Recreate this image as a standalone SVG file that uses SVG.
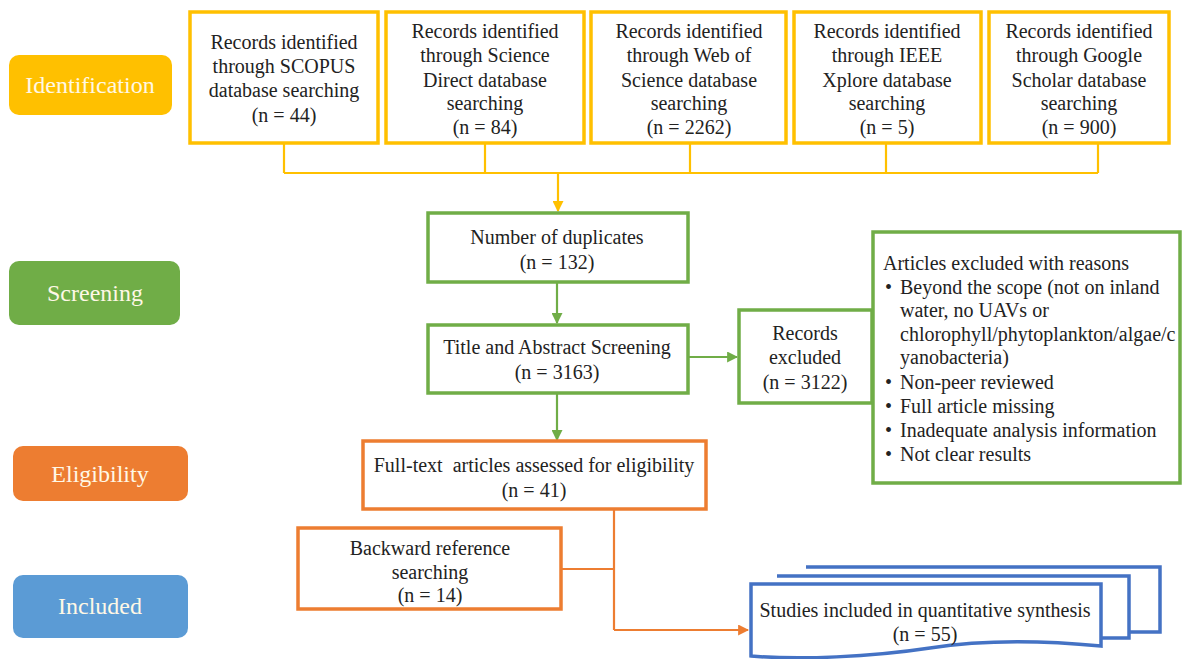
<svg xmlns="http://www.w3.org/2000/svg" width="1185" height="659" viewBox="0 0 1185 659" font-family="'Liberation Serif', 'Times New Roman', serif">
<defs>
<style>
text{font-family:'Liberation Serif','Times New Roman',serif}
.t{font-size:20px;fill:#222;text-anchor:middle}
.tl{font-size:20px;fill:#222}
.ph{font-size:24px;fill:#FFF8E6;text-anchor:middle}
.y{fill:#fff;stroke:#FFC000;stroke-width:3.5}
.g{fill:#fff;stroke:#70AD47;stroke-width:3.5}
.o{fill:#fff;stroke:#ED7D31;stroke-width:3.5}
.b{fill:#fff;stroke:#4472C4;stroke-width:3.5}
.cy{fill:none;stroke:#FFC000;stroke-width:2.2}
.cg{fill:none;stroke:#70AD47;stroke-width:2.2}
.co{fill:none;stroke:#ED7D31;stroke-width:2.2}
</style>
<marker id="ay" viewBox="0 0 10 10" refX="9" refY="5" markerWidth="5" markerHeight="5" orient="auto"><path d="M0,0 L10,5 L0,10 Z" fill="#FFC000"/></marker>
<marker id="ag" viewBox="0 0 10 10" refX="9" refY="5" markerWidth="5" markerHeight="5" orient="auto"><path d="M0,0 L10,5 L0,10 Z" fill="#70AD47"/></marker>
<marker id="ao" viewBox="0 0 10 10" refX="9" refY="5" markerWidth="5" markerHeight="5" orient="auto"><path d="M0,0 L10,5 L0,10 Z" fill="#ED7D31"/></marker>
</defs>
<rect width="1185" height="659" fill="#fff"/>

<g id="phase-identification"><rect x="9" y="55" width="163" height="60" rx="10" fill="#FFC000"/><text class="ph" x="90" y="93">Identification</text></g>
<g id="phase-screening"><rect x="9" y="261" width="171" height="64" rx="10" fill="#70AD47"/><text class="ph" x="95" y="301">Screening</text></g>
<g id="phase-eligibility"><rect x="13" y="446" width="175" height="55" rx="10" fill="#ED7D31"/><text class="ph" x="100" y="482">Eligibility</text></g>
<g id="phase-included"><rect x="13" y="575" width="175" height="63" rx="10" fill="#5B9BD5"/><text class="ph" x="100" y="614">Included</text></g>

<g id="connectors">
<path class="cy" d="M284,143 V173 M485,143 V173 M690,143 V173 M886,143 V173 M1098,143 V173 M284,173 H1098"/>
<path class="cy" d="M558,173 V211" marker-end="url(#ay)"/>
<path class="cg" d="M557,282 V323" marker-end="url(#ag)"/>
<path class="cg" d="M688,357 H737" marker-end="url(#ag)"/>
<path class="cg" d="M557,393 V440" marker-end="url(#ag)"/>
<path class="co" d="M614,509 V630 M561,569 H614"/>
<path class="co" d="M614,630 H748" marker-end="url(#ao)"/>
</g>

<g id="box-scopus"><rect class="y" x="190" y="12" width="188" height="131"/>
<text class="t" x="284" y="49">Records identified</text><text class="t" x="284" y="73">through SCOPUS</text><text class="t" x="284" y="97">database searching</text><text class="t" x="284" y="122">(n = 44)</text></g>
<g id="box-sciencedirect"><rect class="y" x="386" y="12" width="198" height="131"/>
<text class="t" x="485" y="38">Records identified</text><text class="t" x="485" y="62">through Science</text><text class="t" x="485" y="87">Direct database</text><text class="t" x="485" y="110">searching</text><text class="t" x="485" y="134">(n = 84)</text></g>
<g id="box-wos"><rect class="y" x="591" y="12" width="195" height="131"/>
<text class="t" x="689" y="38">Records identified</text><text class="t" x="689" y="62">through Web of</text><text class="t" x="689" y="87">Science database</text><text class="t" x="689" y="110">searching</text><text class="t" x="689" y="134">(n = 2262)</text></g>
<g id="box-ieee"><rect class="y" x="794" y="12" width="187" height="131"/>
<text class="t" x="887" y="38">Records identified</text><text class="t" x="887" y="62">through IEEE</text><text class="t" x="887" y="87">Xplore database</text><text class="t" x="887" y="110">searching</text><text class="t" x="887" y="134">(n = 5)</text></g>
<g id="box-scholar"><rect class="y" x="989" y="12" width="180" height="131"/>
<text class="t" x="1079" y="38">Records identified</text><text class="t" x="1079" y="62">through Google</text><text class="t" x="1079" y="87">Scholar database</text><text class="t" x="1079" y="110">searching</text><text class="t" x="1079" y="134">(n = 900)</text></g>

<g id="box-duplicates"><rect class="g" x="428" y="213" width="260" height="69"/>
<text class="t" x="557" y="244">Number of duplicates</text><text class="t" x="557" y="269">(n = 132)</text></g>
<g id="box-title-abstract"><rect class="g" x="428" y="325" width="260" height="68"/>
<text class="t" x="557" y="354">Title and Abstract Screening</text><text class="t" x="557" y="379">(n = 3163)</text></g>
<g id="box-records-excluded"><rect class="g" x="739" y="310" width="133" height="93"/>
<text class="t" x="805" y="340">Records</text><text class="t" x="805" y="364">excluded</text><text class="t" x="805" y="389">(n = 3122)</text></g>
<g id="box-reasons"><rect class="g" x="873" y="232" width="307" height="251"/>
<text class="tl" x="883" y="270">Articles excluded with reasons</text>
<text class="tl" x="885" y="294">•</text><text class="tl" x="900" y="294">Beyond the scope (not on inland</text>
<text class="tl" x="900" y="317">water, no UAVs or</text>
<text class="tl" x="900" y="341">chlorophyll/phytoplankton/algae/c</text>
<text class="tl" x="900" y="364">yanobacteria)</text>
<text class="tl" x="885" y="389">•</text><text class="tl" x="900" y="389">Non-peer reviewed</text>
<text class="tl" x="885" y="413">•</text><text class="tl" x="900" y="413">Full article missing</text>
<text class="tl" x="885" y="437">•</text><text class="tl" x="900" y="437">Inadequate analysis information</text>
<text class="tl" x="885" y="461">•</text><text class="tl" x="900" y="461">Not clear results</text></g>

<g id="box-fulltext"><rect class="o" x="363" y="441" width="343" height="68"/>
<text class="t" x="534" y="472">Full-text&#160; articles assessed for eligibility</text><text class="t" x="534" y="497">(n = 41)</text></g>
<g id="box-backward"><rect class="o" x="298" y="528" width="263" height="81"/>
<text class="t" x="430" y="555">Backward reference</text><text class="t" x="430" y="579">searching</text><text class="t" x="430" y="602">(n = 14)</text></g>

<g id="box-included">
<path class="b" d="M806,567 H1160 V632 H1130"/>
<path class="b" d="M777,576 H1129 V638 H1101"/>
<path class="b" d="M751,584 H1101 V646 C1040,640 980,640 930,648 C870,657 800,660 751,656 Z"/>
<text class="t" x="925" y="617">Studies included in quantitative synthesis</text><text class="t" x="925" y="641">(n = 55)</text></g>
</svg>
